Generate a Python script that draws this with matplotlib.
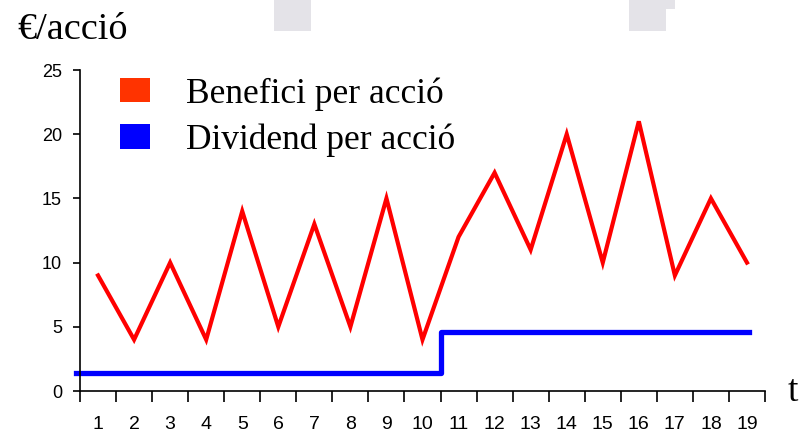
import numpy as np
import matplotlib
matplotlib.use('Agg')
import matplotlib.pyplot as plt
from matplotlib.patches import Patch, Rectangle, Polygon

plt.rcParams['font.family'] = 'Liberation Sans'

periods = np.arange(1, 20)
tick_labels = [str(p) for p in periods]
benefici = [9, 4, 10, 4, 14, 5, 13, 5, 15, 4, 12, 17, 11, 20, 10, 21, 9, 15, 10]
dividend = [1.4] * 10 + [4.6] * 9

W, H = 807, 440
fig = plt.figure(figsize=(W / 100, H / 100), dpi=100)
ax = fig.add_axes([80 / W, 1 - 391 / H, (765 - 80) / W, (391 - 70) / H])

# slide decorations at the top edge
grey = '#e4e3e8'
fig.patches.append(Rectangle((274 / W, 1 - 31 / H), 37 / W, 31 / H,
                             transform=fig.transFigure, color=grey, lw=0))
fig.patches.append(Polygon([(629 / W, 1), (675 / W, 1), (675 / W, 1 - 9 / H),
                            (666 / W, 1 - 9 / H), (666 / W, 1 - 31 / H),
                            (629 / W, 1 - 31 / H)],
                           closed=True, transform=fig.transFigure, color=grey, lw=0))

ax.plot(periods, benefici, color='#ff0000', lw=3.0, solid_joinstyle='miter')

# dividend as a step, padded a bit to the left like the original
xs = np.r_[0.39, periods + 0.5]
xs[-1] = 19.06
ys = np.r_[dividend, dividend[-1]]
ax.step(xs, ys, where='post', color='#0000ff', lw=3.8, clip_on=False)

ax.set_xlim(0.5, 19.5)
ax.set_ylim(0, 25)
ax.set_yticks(range(0, 26, 5))
ax.set_xticks(periods)
ax.set_xticklabels(tick_labels)
ax.set_xticks(np.arange(0.5, 20, 1), minor=True)

for s in ['top', 'right']:
    ax.spines[s].set_visible(False)
ax.spines['left'].set_linewidth(1.2)
ax.spines['bottom'].set_linewidth(1.2)

ax.tick_params(axis='y', direction='out', length=5, width=1.2, pad=8, labelsize=13)
ax.tick_params(axis='x', which='major', length=0, pad=18, labelsize=14)
ax.tick_params(axis='x', which='minor', direction='out', length=8, width=1.2)

fig.text(17 / W, 1 - 30 / H, '€/acció', family='Liberation Serif', fontsize=27.5,
         va='center', ha='left')
fig.text(788 / W, 1 - 392 / H, 't', family='Liberation Serif', fontsize=27,
         va='center', ha='left')

handles = [Patch(facecolor='#ff3300', edgecolor='none'),
           Patch(facecolor='#0000ff', edgecolor='none')]
leg = ax.legend(handles, ['Benefici per acció', 'Dividend per acció'],
                loc='upper left', bbox_to_anchor=(120 / W, 1 - 77 / H),
                bbox_transform=fig.transFigure, frameon=False, borderpad=0,
                borderaxespad=0, handlelength=0.85, handleheight=0.68,
                handletextpad=1.0, labelspacing=0.36,
                prop={'family': 'Liberation Serif', 'size': 25.5})

fig.savefig('out.png', dpi=100)
